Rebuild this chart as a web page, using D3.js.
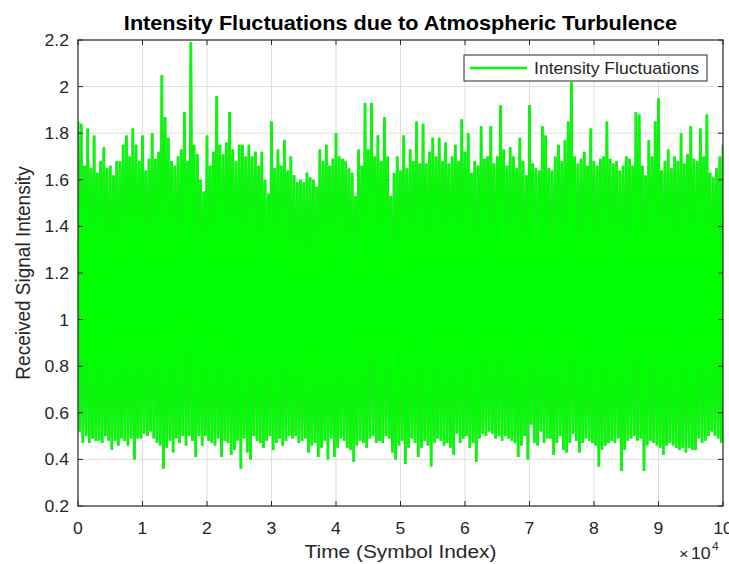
<!DOCTYPE html>
<html>
<head>
<meta charset="utf-8">
<script src="https://cdn.jsdelivr.net/npm/d3@7"></script>
<style>
	body { margin: 0; background: #fff; }
	svg text { font-family: "Liberation Sans", Arial, Helvetica, sans-serif; fill: #262626; }
</style>
</head>
<body>
<svg id="graphic" width="729" height="564"></svg>
<script>
// symbols per envelope bin (the trace has 1e5 samples)
const binStep = 500;

// max of the trace in each bin
const upperEnvelope = [
	1.85, 1.84, 1.66, 1.82, 1.65, 1.79, 1.63, 1.68, 1.74, 1.65,
	1.66, 1.62, 1.68, 1.68, 1.75, 1.79, 1.70, 1.82, 1.75, 1.68,
	1.79, 1.64, 1.69, 1.80, 1.69, 1.72, 2.05, 1.87, 1.78, 1.68,
	1.66, 1.70, 1.73, 1.89, 1.68, 2.19, 1.75, 1.71, 1.60, 1.55,
	1.79, 1.66, 1.72, 1.96, 1.75, 1.71, 1.76, 1.89, 1.73, 1.68,
	1.75, 1.75, 1.70, 1.75, 1.70, 1.72, 1.66, 1.72, 1.60, 1.54,
	1.85, 1.65, 1.73, 1.66, 1.77, 1.64, 1.70, 1.62, 1.59, 1.60,
	1.59, 1.63, 1.61, 1.60, 1.57, 1.73, 1.68, 1.75, 1.66, 1.69,
	1.80, 1.70, 1.69, 1.68, 1.65, 1.63, 1.53, 1.73, 1.66, 1.93,
	1.73, 1.93, 1.70, 1.79, 1.68, 1.87, 1.70, 1.53, 1.63, 1.70,
	1.64, 1.79, 1.65, 1.73, 1.68, 1.85, 1.67, 1.84, 1.67, 1.72,
	1.78, 1.70, 1.78, 1.68, 1.76, 1.67, 1.70, 1.75, 1.68, 1.86,
	1.72, 1.80, 1.63, 1.68, 1.66, 1.83, 1.69, 1.70, 1.83, 1.67,
	1.70, 1.92, 1.73, 1.66, 1.74, 1.70, 1.65, 1.78, 1.68, 1.62,
	1.92, 1.67, 1.65, 1.64, 1.83, 1.79, 1.65, 1.64, 1.70, 1.75,
	1.68, 1.77, 1.85, 2.02, 1.70, 1.67, 1.69, 1.72, 1.66, 1.82,
	1.68, 1.66, 1.69, 1.70, 1.85, 1.69, 1.67, 1.68, 1.64, 1.66,
	1.70, 1.69, 1.66, 1.89, 1.88, 1.66, 1.62, 1.77, 1.70, 1.85,
	1.95, 1.64, 1.68, 1.73, 1.65, 1.70, 1.68, 1.80, 1.67, 1.71,
	1.83, 1.69, 1.68, 1.82, 1.70, 1.88, 1.63, 1.61, 1.65, 1.70,
	1.75
];

// min of the trace in each bin
const lowerEnvelope = [
	0.52, 0.47, 0.50, 0.47, 0.49, 0.48, 0.48, 0.47, 0.50, 0.48,
	0.44, 0.48, 0.46, 0.49, 0.48, 0.46, 0.49, 0.40, 0.49, 0.49,
	0.51, 0.50, 0.52, 0.49, 0.47, 0.46, 0.36, 0.45, 0.48, 0.43,
	0.49, 0.47, 0.50, 0.46, 0.50, 0.48, 0.41, 0.50, 0.46, 0.50,
	0.48, 0.47, 0.46, 0.49, 0.41, 0.48, 0.47, 0.42, 0.44, 0.48,
	0.36, 0.49, 0.43, 0.40, 0.50, 0.48, 0.47, 0.45, 0.48, 0.50,
	0.44, 0.47, 0.49, 0.46, 0.48, 0.50, 0.49, 0.50, 0.47, 0.48,
	0.49, 0.43, 0.46, 0.47, 0.41, 0.45, 0.48, 0.40, 0.49, 0.41,
	0.45, 0.49, 0.48, 0.45, 0.44, 0.39, 0.46, 0.48, 0.47, 0.45,
	0.49, 0.50, 0.47, 0.48, 0.47, 0.50, 0.49, 0.43, 0.40, 0.46,
	0.48, 0.38, 0.45, 0.49, 0.47, 0.41, 0.45, 0.48, 0.46, 0.37,
	0.47, 0.49, 0.48, 0.46, 0.47, 0.45, 0.42, 0.51, 0.47, 0.49,
	0.50, 0.45, 0.47, 0.39, 0.49, 0.51, 0.50, 0.52, 0.51, 0.49,
	0.50, 0.48, 0.50, 0.49, 0.48, 0.47, 0.41, 0.46, 0.50, 0.40,
	0.55, 0.47, 0.46, 0.52, 0.47, 0.49, 0.49, 0.42, 0.47, 0.50,
	0.44, 0.43, 0.47, 0.51, 0.48, 0.43, 0.47, 0.49, 0.48, 0.47,
	0.46, 0.37, 0.44, 0.46, 0.47, 0.48, 0.47, 0.49, 0.35, 0.44,
	0.48, 0.49, 0.50, 0.48, 0.49, 0.35, 0.46, 0.48, 0.47, 0.46,
	0.45, 0.42, 0.46, 0.47, 0.46, 0.45, 0.44, 0.45, 0.43, 0.45,
	0.44, 0.44, 0.49, 0.47, 0.48, 0.50, 0.52, 0.50, 0.49, 0.47,
	0.52
];

const xTicks = [0, 1, 2, 3, 4, 5, 6, 7, 8, 9, 10]; // ×10^4
const yTicks = [0.2, 0.4, 0.6, 0.8, 1, 1.2, 1.4, 1.6, 1.8, 2, 2.2];
const xDomain = [0, 100000];
const yDomain = [0.2, 2.2];

const titleText = 'Intensity Fluctuations due to Atmospheric Turbulence';
const xAxisLabel = 'Time (Symbol Index)';
const yAxisLabel = 'Received Signal Intensity';
const legendLabel = 'Intensity Fluctuations';

const margin = { top: 40, right: 6, bottom: 58, left: 78 };
const width = 729, height = 564;
const chartWidth = width - margin.left - margin.right;
const chartHeight = height - margin.top - margin.bottom;
const stretch = 1.1; // the saved figure is a bit wider than tall
const axisColour = '#262626';
const lineColour = '#00ff00';
const tickLen = 5;

const svg = d3.select('#graphic');

// put a text at a point, stretched horizontally like the source
function addText(parent, px, py, str, opts) {
	opts = opts || {};
	let t = parent.append('text')
		.attr('transform', 'translate(' + px + ',' + py + ') scale(' + stretch + ',1)' + (opts.rotate ? ' rotate(' + opts.rotate + ')' : ''))
		.attr('text-anchor', opts.anchor || 'start')
		.style('font-size', (opts.size || 15) + 'px')
		.text(str);
	if (opts.weight) t.style('font-weight', opts.weight);
	if (opts.fill) t.style('fill', opts.fill);
	return t;
}

const x = d3.scaleLinear().domain(xDomain).range([0, chartWidth]);
const y = d3.scaleLinear().domain(yDomain).range([chartHeight, 0]);

const g = svg.append('g').attr('transform', 'translate(' + margin.left + ',' + margin.top + ')');

svg.append('defs').append('clipPath').attr('id', 'plotclip')
	.append('rect').attr('width', chartWidth).attr('height', chartHeight);

// grid (under the data, like MATLAB's default layer)
const grid = g.append('g').attr('stroke', '#dedede').attr('stroke-width', 1);
grid.selectAll('line.gx').data(xTicks.slice(1, -1)).join('line')
	.attr('class', 'gx')
	.attr('x1', d => x(d * 1e4)).attr('x2', d => x(d * 1e4))
	.attr('y1', 0).attr('y2', chartHeight);
grid.selectAll('line.gy').data(yTicks.slice(1, -1)).join('line')
	.attr('class', 'gy')
	.attr('x1', 0).attr('x2', chartWidth)
	.attr('y1', d => y(d)).attr('y2', d => y(d));

// the trace: each bin swept from its max down to its min
const tracePoints = [];
upperEnvelope.forEach((v, i) => {
	tracePoints.push([i * binStep, v]);
	tracePoints.push([i * binStep + binStep / 2, lowerEnvelope[i]]);
});

const line = d3.line().x(d => x(d[0])).y(d => y(d[1]));

const trace = g.append('g').attr('clip-path', 'url(#plotclip)');
trace.append('path')
	.datum(tracePoints)
	.attr('d', line)
	.attr('fill', 'none')
	.attr('stroke', '#3ccc3c')
	.attr('stroke-width', 2.8);
trace.append('path')
	.datum(tracePoints)
	.attr('d', line)
	.attr('fill', 'none')
	.attr('stroke', lineColour)
	.attr('stroke-width', 2.1);

// box and inward ticks on all four sides
g.append('rect')
	.attr('width', chartWidth).attr('height', chartHeight)
	.attr('fill', 'none').attr('stroke', axisColour).attr('stroke-width', 1.2);

const ticks = g.append('g').attr('stroke', axisColour).attr('stroke-width', 1);
xTicks.forEach(d => {
	let px = x(d * 1e4);
	ticks.append('line').attr('x1', px).attr('x2', px).attr('y1', chartHeight).attr('y2', chartHeight - tickLen);
	ticks.append('line').attr('x1', px).attr('x2', px).attr('y1', 0).attr('y2', tickLen);
});
yTicks.forEach(d => {
	let py = y(d);
	ticks.append('line').attr('x1', 0).attr('x2', tickLen).attr('y1', py).attr('y2', py);
	ticks.append('line').attr('x1', chartWidth).attr('x2', chartWidth - tickLen).attr('y1', py).attr('y2', py);
});

// tick labels
xTicks.forEach(d => addText(g, x(d * 1e4), chartHeight + 28, String(d), { anchor: 'middle', size: 16 }));
yTicks.forEach(d => addText(g, -9, y(d) + 6, String(d), { anchor: 'end', size: 16 }));

// exponent marker
addText(svg, 679, 559, '\u00d7', { size: 15 });
addText(svg, 691, 559, '10', { size: 16 });
addText(svg, 712, 550, '4', { size: 11 });

// axis labels and title
addText(svg, margin.left + chartWidth / 2, 558, xAxisLabel, { anchor: 'middle', size: 19 });
addText(svg, 30, margin.top + chartHeight / 2, yAxisLabel, { anchor: 'middle', size: 19, rotate: -90 });
addText(svg, margin.left + chartWidth / 2, 30, titleText, { anchor: 'middle', size: 19.7, weight: 'bold', fill: '#000' });

// legend
const legend = svg.append('g').attr('transform', 'translate(464,55)');
legend.append('rect')
	.attr('width', 243).attr('height', 26)
	.attr('fill', '#fff').attr('stroke', axisColour).attr('stroke-width', 1);
legend.append('line')
	.attr('x1', 6).attr('x2', 63).attr('y1', 13).attr('y2', 13)
	.attr('stroke', lineColour).attr('stroke-width', 2.5);
addText(legend, 70, 19, legendLabel, { size: 16 });
</script>
</body>
</html>
